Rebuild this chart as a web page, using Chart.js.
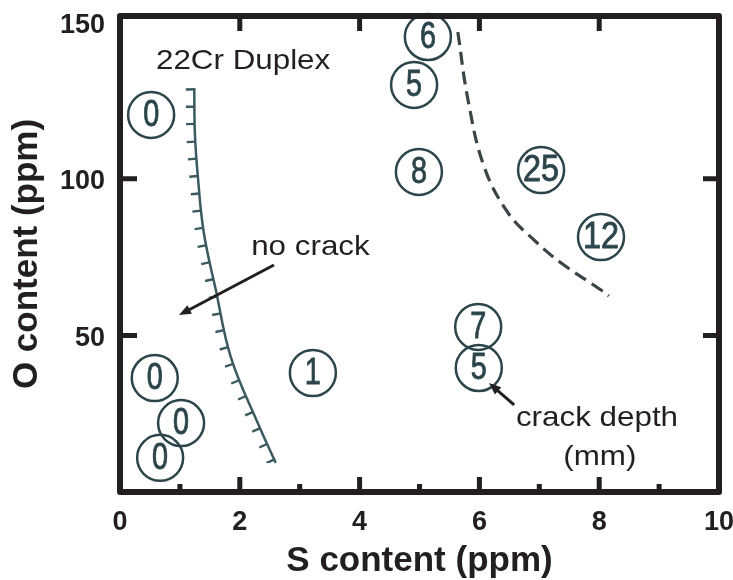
<!DOCTYPE html>
<html>
<head>
<meta charset="utf-8">
<style>
  html, body { margin: 0; padding: 0; background: #fff; }
  #wrap { width: 733px; height: 580px; }
</style>
</head>
<body>
<div id="wrap"><canvas id="chart" width="733" height="580"></canvas></div>
<script src="https://cdn.jsdelivr.net/npm/chart.js@4/dist/chart.umd.min.js"></script>
<script>
// crack depth (mm) of each specimen
const depthLabels = ["0", "0", "0", "0", "1", "6", "5", "8", "25", "12", "7", "5"];
const sContent = [0.52, 0.58, 1.02, 0.67, 3.22, 5.14, 4.91, 4.99, 7.03, 8.03, 5.98, 5.99];
const oContent = [120.4, 36.4, 22.0, 10.9, 38.0, 145.3, 130.0, 102.2, 102.8, 81.4, 52.7, 39.6];

// hatched "no crack" boundary
const noCrackS = [1.24, 1.25, 1.30, 1.40, 1.60, 1.85, 2.30, 2.60];
const noCrackO = [129.0, 114.6, 100.6, 82.7, 64.5, 43.1, 22.0, 9.3];

// dashed boundary
const crackS = [5.64, 5.81, 6.08, 6.48, 6.91, 7.36, 8.03, 8.16];
const crackO = [146.9, 125.2, 103.8, 89.1, 80.5, 73.2, 64.5, 62.6];

const xTicks = [0, 2, 4, 6, 8, 10];
const xMinorTicks = [1, 3, 5, 7, 9];
const yTicks = [50, 100, 150];

const notes = [
  { text: "22Cr Duplex", s: 0.6, o: 135.1 },
  { text: "no crack", s: 2.19, o: 75.7 },
  { text: "crack depth", s: 6.61, o: 21.1 },
  { text: "(mm)", s: 7.40, o: 8.6 },
];
const arrows = [
  { from: [2.57, 72.5], to: [0.985, 56.5] },
  { from: [6.58, 27.8], to: [6.16, 34.8] },
];

const INK = "#231f20";
const SCAN = "#2b454b";
const FONT = "'Liberation Sans', Arial, Helvetica, sans-serif";

Chart.defaults.font.family = FONT;
Chart.defaults.color = INK;

const pairs = (xs, ys) => xs.map((x, i) => ({ x, y: ys[i] }));

function noOverflow(s) {
  s.paddingTop = 0;
  s.paddingBottom = 0;
  s.paddingLeft = 0;
  s.paddingRight = 0;
}

function drawArrow(ctx, x1, y1, x2, y2) {
  const ang = Math.atan2(y2 - y1, x2 - x1);
  const head = 13;
  ctx.beginPath();
  ctx.moveTo(x1, y1);
  ctx.lineTo(x2 - Math.cos(ang) * head * 0.8, y2 - Math.sin(ang) * head * 0.8);
  ctx.stroke();
  ctx.beginPath();
  ctx.moveTo(x2, y2);
  ctx.lineTo(x2 - head * Math.cos(ang - 0.38), y2 - head * Math.sin(ang - 0.38));
  ctx.lineTo(x2 - head * Math.cos(ang + 0.38), y2 - head * Math.sin(ang + 0.38));
  ctx.closePath();
  ctx.fill();
}

const decorations = {
  id: "decorations",
  afterDatasetsDraw(chart) {
    const { ctx, chartArea: a, scales: { x, y } } = chart;

    // hatch marks on the left side of the "no crack" boundary
    const line = chart.getDatasetMeta(0).dataset;
    const pts = chart.getDatasetMeta(0).data;
    const first = pts[0], last = pts[pts.length - 1];
    ctx.save();
    ctx.beginPath();
    line.path(ctx);
    ctx.lineTo(last.x - 60, last.y);
    ctx.lineTo(first.x - 60, first.y);
    ctx.closePath();
    ctx.clip();
    ctx.beginPath();
    line.path(ctx);
    ctx.lineWidth = 17;
    ctx.setLineDash([2.4, 15]);
    ctx.strokeStyle = "#3b5a60";
    ctx.stroke();
    ctx.restore();

    // numbers inside the circles
    const circles = chart.getDatasetMeta(2).data;
    ctx.save();
    ctx.fillStyle = SCAN;
    ctx.strokeStyle = SCAN;
    ctx.lineWidth = 0.8;
    ctx.textAlign = "center";
    ctx.textBaseline = "middle";
    ctx.font = "36px " + FONT;
    circles.forEach((p, i) => {
      const label = depthLabels[i];
      ctx.save();
      ctx.translate(p.x, p.y + 1);
      ctx.scale(label.length > 1 ? 0.9 : 0.8, 1);
      ctx.fillText(label, 0, 0);
      ctx.strokeText(label, 0, 0);
      ctx.restore();
    });
    ctx.restore();

    // text notes and arrows
    ctx.save();
    ctx.fillStyle = INK;
    ctx.font = "28px " + FONT;
    ctx.textBaseline = "alphabetic";
    notes.forEach((n) => {
      ctx.save();
      ctx.translate(x.getPixelForValue(n.s), y.getPixelForValue(n.o));
      ctx.scale(1.12, 1);
      ctx.fillText(n.text, 0, 0);
      ctx.restore();
    });
    ctx.strokeStyle = INK;
    ctx.lineWidth = 3;
    arrows.forEach((ar) => {
      drawArrow(ctx,
        x.getPixelForValue(ar.from[0]), y.getPixelForValue(ar.from[1]),
        x.getPixelForValue(ar.to[0]), y.getPixelForValue(ar.to[1]));
    });
    ctx.restore();

    // frame and inward ticks
    ctx.save();
    ctx.strokeStyle = INK;
    ctx.lineWidth = 6;
    ctx.lineJoin = "round";
    ctx.strokeRect(a.left, a.top, a.right - a.left, a.bottom - a.top);
    ctx.lineWidth = 5;
    ctx.beginPath();
    xTicks.slice(1, -1).forEach((v) => {
      const px = x.getPixelForValue(v);
      ctx.moveTo(px, a.bottom); ctx.lineTo(px, a.bottom - 15);
      ctx.moveTo(px, a.top); ctx.lineTo(px, a.top + 15);
    });
    xMinorTicks.forEach((v) => {
      const px = x.getPixelForValue(v);
      ctx.moveTo(px, a.bottom); ctx.lineTo(px, a.bottom - 8);
    });
    yTicks.slice(0, -1).forEach((v) => {
      const py = y.getPixelForValue(v);
      ctx.moveTo(a.left, py); ctx.lineTo(a.left + 17, py);
      ctx.moveTo(a.right, py); ctx.lineTo(a.right - 16, py);
    });
    ctx.stroke();
    ctx.restore();
  },
};

new Chart(document.getElementById("chart"), {
  type: "scatter",
  data: {
    datasets: [
      {
        label: "no crack boundary",
        data: pairs(noCrackS, noCrackO),
        showLine: true,
        tension: 0.4,
        borderColor: "#3b5a60",
        borderWidth: 2.5,
        pointRadius: 0,
      },
      {
        label: "crack boundary",
        data: pairs(crackS, crackO),
        showLine: true,
        tension: 0.4,
        borderColor: "#3a4548",
        borderWidth: 3.2,
        borderDash: [13, 7],
        pointRadius: 0,
      },
      {
        label: "crack depth (mm)",
        data: pairs(sContent, oContent),
        pointStyle: "circle",
        pointRadius: 23,
        pointBorderWidth: 2.5,
        pointBorderColor: SCAN,
        pointBackgroundColor: "rgba(255,255,255,0)",
        clip: false,
      },
    ],
  },
  options: {
    responsive: false,
    animation: false,
    events: [],
    layout: { autoPadding: false, padding: { left: 0, top: 16, right: 14, bottom: 0 } },
    plugins: { legend: { display: false }, tooltip: { enabled: false } },
    scales: {
      x: {
        type: "linear",
        min: 0,
        max: 10,
        afterBuildTicks: (s) => { s.ticks = xTicks.map((v) => ({ value: v })); },
        afterFit: (s) => { s.height = 88; noOverflow(s); },
        grid: { display: false, drawTicks: false },
        border: { display: false },
        ticks: { color: INK, padding: 14, font: { size: 27, weight: "bold" } },
        title: {
          display: true,
          text: "S content (ppm)",
          color: INK,
          font: { size: 35, weight: "bold", lineHeight: 1.09 },
          padding: { top: 0, bottom: 0 },
        },
      },
      y: {
        type: "linear",
        min: 0,
        max: 152,
        afterBuildTicks: (s) => { s.ticks = yTicks.map((v) => ({ value: v })); },
        afterFit: (s) => { s.width = 120; noOverflow(s); },
        grid: { display: false, drawTicks: false },
        border: { display: false },
        ticks: { color: INK, padding: 15, labelOffset: 3, font: { size: 27, weight: "bold" } },
        title: {
          display: true,
          text: "O content (ppm)",
          color: INK,
          font: { size: 35, weight: "bold", lineHeight: 1.2 },
          padding: { top: 6, bottom: 0 },
        },
      },
    },
  },
  plugins: [decorations],
});
</script>
</body>
</html>
